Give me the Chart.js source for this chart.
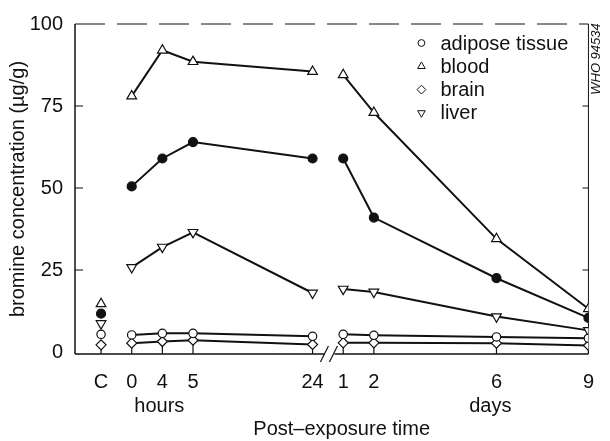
<!DOCTYPE html>
<html>
<head>
<meta charset="utf-8">
<script src="https://cdn.jsdelivr.net/npm/chart.js@4.4.1/dist/chart.umd.min.js"></script>
<style>
  html, body { margin: 0; padding: 0; background: #fff; }
  #wrap { width: 610px; height: 441px; }
</style>
</head>
<body>
<div id="wrap"><canvas id="bromineChart" width="610" height="441"></canvas></div>
<script>
// time axis: control group, hours after exposure, then days (axis is broken between the two)
const hourTicks = ['0', '4', '5', '24'];
const dayNumbers = [1, 2, 6, 9];
const CONTROL_SLOT = 0;
const hourSlots = [1, 2, 3, 6.9];
const DAY_ZERO = 6.9;                 // day d sits at DAY_ZERO + d
const daySlots = dayNumbers.map(d => DAY_ZERO + d);
const AXIS_BREAK = 7.45;

// bromine concentration, µg/g
const controlValues = { adipose: 5.4, blood: 14.7, brain: 2.2, liver: 8.7, solid: 11.7 };

const adiposeHours = [5.2, 5.7, 5.7, 4.8];
const adiposeDays  = [5.4, 5.1, 4.6, 4.2];

const bloodHours = [78, 92, 88.5, 85.5];
const bloodDays  = [84.5, 73, 34.5, 13.2];

const brainHours = [2.7, 3.2, 3.6, 2.3];
const brainDays  = [2.8, 2.8, 2.7, 2.0];

const liverHours = [25.8, 32, 36.5, 18];
const liverDays  = [19.2, 18.3, 10.8, 6.6];

// closed circles (no legend entry)
const solidHours = [50.5, 59, 64, 59];
const solidDays  = [59, 41, 22.5, 10.4];

const INK = '#111';
const FONT = "'Liberation Sans', Arial, sans-serif";

// control point, then the hour run, a null to break the line, then the day run
function series(ctrl, hours, days) {
  const pts = [{ x: CONTROL_SLOT, y: ctrl }, { x: 0.5, y: null }];
  hours.forEach((v, i) => pts.push({ x: hourSlots[i], y: v }));
  pts.push({ x: AXIS_BREAK, y: null });
  days.forEach((v, i) => pts.push({ x: daySlots[i], y: v }));
  return pts;
}

function tickText(value) {
  if (Math.abs(value - CONTROL_SLOT) < 0.01) return 'C';
  let i = hourSlots.findIndex(s => Math.abs(s - value) < 0.01);
  if (i >= 0) return hourTicks[i];
  i = daySlots.findIndex(s => Math.abs(s - value) < 0.01);
  return i >= 0 ? String(dayNumbers[i]) : '';
}

const baseSet = {
  borderColor: INK,
  borderWidth: 2,
  pointBorderColor: INK,
  pointBorderWidth: 1.2,
  pointBackgroundColor: '#fff',
  spanGaps: false,
  tension: 0
};

const datasets = [
  { ...baseSet, label: 'adipose tissue', data: series(controlValues.adipose, adiposeHours, adiposeDays),
    pointStyle: 'circle', pointRadius: 4.2 },
  { ...baseSet, label: 'blood', data: series(controlValues.blood, bloodHours, bloodDays),
    pointStyle: 'triangle', pointRadius: 5.6 },
  { ...baseSet, label: 'brain', data: series(controlValues.brain, brainHours, brainDays),
    pointStyle: 'rectRot', pointRadius: 5 },
  { ...baseSet, label: 'liver', data: series(controlValues.liver, liverHours, liverDays),
    pointStyle: 'triangle', pointRotation: 180, pointRadius: 5.6 },
  { ...baseSet, label: '', data: series(controlValues.solid, solidHours, solidDays),
    pointStyle: 'circle', pointRadius: 4.5, pointBackgroundColor: INK }
];

// frame, inward ticks, axis break, legend and captions
const paperFrame = {
  id: 'paperFrame',
  beforeDatasetsDraw(chart) {
    const { ctx, chartArea: a, scales: { x, y } } = chart;
    const y0 = a.bottom;
    ctx.save();
    ctx.strokeStyle = INK;
    ctx.lineCap = 'butt';

    // left axis and right edge
    ctx.lineWidth = 1.5;
    ctx.beginPath();
    ctx.moveTo(a.left, a.top); ctx.lineTo(a.left, y0);
    ctx.stroke();
    ctx.lineWidth = 1;
    ctx.beginPath();
    ctx.moveTo(a.right, a.top); ctx.lineTo(a.right, y0);
    ctx.stroke();

    // top edge, broken up
    ctx.setLineDash([30, 12]);
    ctx.beginPath();
    ctx.moveTo(a.left, a.top); ctx.lineTo(a.right, a.top);
    ctx.stroke();
    ctx.setLineDash([]);

    // bottom axis with a gap and // marks
    const bx = x.getPixelForValue(AXIS_BREAK);
    ctx.lineWidth = 1.5;
    ctx.beginPath();
    ctx.moveTo(a.left, y0); ctx.lineTo(bx - 5, y0);
    ctx.moveTo(bx + 5, y0); ctx.lineTo(a.right, y0);
    ctx.stroke();
    ctx.lineWidth = 1.2;
    ctx.beginPath();
    [-5, 4].forEach(dx => {
      ctx.moveTo(bx + dx - 4, y0 + 8);
      ctx.lineTo(bx + dx + 4, y0 - 8);
    });
    ctx.stroke();

    // inward ticks
    ctx.lineWidth = 1.2;
    ctx.beginPath();
    y.ticks.forEach(t => {
      if (t.value === 0 || t.value === 100) return;
      const py = y.getPixelForValue(t.value);
      ctx.moveTo(a.left, py); ctx.lineTo(a.left + 8, py);
      ctx.moveTo(a.right, py); ctx.lineTo(a.right - 6, py);
    });
    x.ticks.forEach(t => {
      const px = x.getPixelForValue(t.value);
      ctx.moveTo(px, y0); ctx.lineTo(px, y0 - 9);
    });
    ctx.stroke();
    ctx.restore();
  },
  afterDraw(chart) {
    const { ctx, chartArea: a, scales: { x } } = chart;
    ctx.save();

    // group captions under the tick labels, then the axis title
    ctx.fillStyle = INK;
    ctx.font = '20px ' + FONT;
    ctx.textAlign = 'center';
    ctx.textBaseline = 'middle';
    ctx.fillText('hours', x.getPixelForValue(1.9), 406);
    ctx.fillText('days', x.getPixelForValue(DAY_ZERO + 5.8), 406);
    ctx.fillText('Post–exposure time', (a.left + a.right) / 2 + 10, 429);

    // legend, top right inside the frame (open symbols)
    const lx = a.right - 167, ly = 43, row = 23.3;
    chart.data.datasets.forEach((ds, i) => {
      if (!ds.label) return;
      const cy = ly + i * row;
      ctx.fillStyle = '#fff';
      ctx.strokeStyle = INK;
      ctx.lineWidth = 1;
      Chart.helpers.drawPoint(ctx, {
        pointStyle: ds.pointStyle,
        rotation: ds.pointRotation || 0,
        radius: ds.pointStyle === 'circle' ? 3.4 : 4.4,
        borderWidth: 1
      }, lx, cy);
      ctx.fillStyle = INK;
      ctx.textAlign = 'left';
      ctx.fillText(ds.label, lx + 19, cy + 1);
    });

    // figure reference number along the right edge
    ctx.fillStyle = INK;
    ctx.translate(a.right + 8, 59);
    ctx.rotate(-Math.PI / 2);
    ctx.font = 'italic 13px ' + FONT;
    ctx.textAlign = 'center';
    ctx.textBaseline = 'middle';
    ctx.fillText('WHO 94534', 0, 0);
    ctx.restore();
  }
};

new Chart(document.getElementById('bromineChart'), {
  type: 'line',
  data: { datasets },
  plugins: [paperFrame],
  options: {
    responsive: false,
    animation: false,
    devicePixelRatio: 1,
    layout: { padding: { top: 19, right: 15, left: 0, bottom: 0 } },
    plugins: { legend: { display: false }, tooltip: { enabled: false } },
    scales: {
      x: {
        type: 'linear',
        min: -0.85,
        max: 15.9,
        grid: { display: false, drawTicks: false },
        border: { display: false },
        afterBuildTicks: s => {
          s.ticks = [CONTROL_SLOT, ...hourSlots, ...daySlots].map(v => ({ value: v }));
        },
        afterFit: s => { s.height = 87; },
        ticks: {
          autoSkip: false,
          maxRotation: 0,
          padding: 16,
          color: INK,
          font: { family: FONT, size: 20 },
          callback: v => tickText(v)
        }
      },
      y: {
        min: -0.6,
        max: 100,
        grid: { display: false, drawTicks: false },
        border: { display: false },
        afterBuildTicks: s => {
          s.ticks = [0, 25, 50, 75, 100].map(v => ({ value: v }));
        },
        afterFit: s => { s.width = 75; },
        ticks: {
          padding: 12,
          color: INK,
          font: { family: FONT, size: 20 }
        },
        title: {
          display: true,
          text: 'bromine concentration (µg/g)',
          color: INK,
          font: { family: FONT, size: 20 },
          padding: { top: 6, bottom: 0 }
        }
      }
    }
  }
});
</script>
</body>
</html>
